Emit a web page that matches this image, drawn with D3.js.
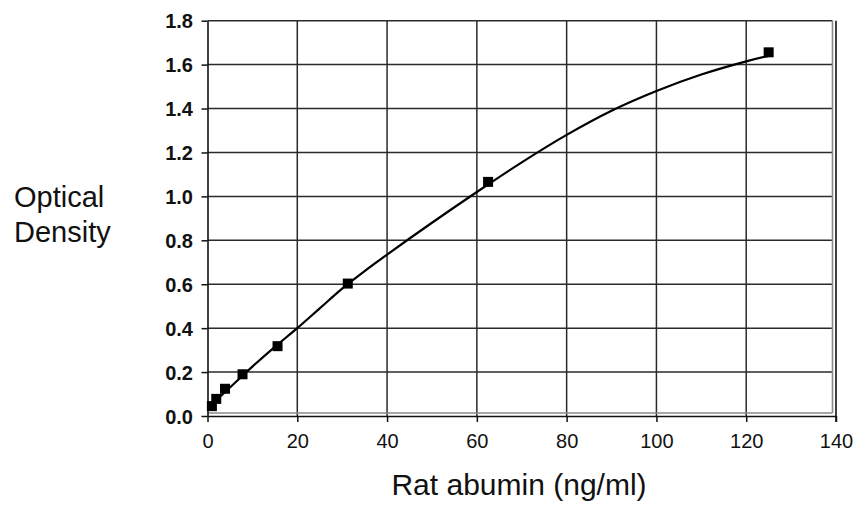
<!DOCTYPE html>
<html>
<head>
<meta charset="utf-8">
<script src="https://cdn.jsdelivr.net/npm/d3@7"></script>
<style>
  html, body { margin: 0; padding: 0; background: #fff; }
  svg { display: block; font-family: Arial, "Liberation Sans", sans-serif; }
</style>
</head>
<body>
<svg id="chart" width="858" height="507"></svg>
<script>
// ---- data ----
const concentrations = [0.98, 1.95, 3.9, 7.8, 15.6, 31.25, 62.5, 125];
const odValues       = [0.045, 0.078, 0.124, 0.19, 0.318, 0.603, 1.066, 1.656];

const curveX = [0, 5, 10, 15, 20, 25, 30, 35, 40, 50, 60, 70, 80, 90, 100, 110, 120, 125];
const curveY = [0.035, 0.13, 0.225, 0.315, 0.4, 0.49, 0.58, 0.66, 0.735, 0.88, 1.02, 1.155, 1.28, 1.39, 1.48, 1.555, 1.615, 1.64];

const xTicks = [0, 20, 40, 60, 80, 100, 120, 140];
const yTicks = [0.0, 0.2, 0.4, 0.6, 0.8, 1.0, 1.2, 1.4, 1.6, 1.8];

const xTitle = "Rat abumin (ng/ml)";
const yTitleLines = ["Optical", "Density"];

// ---- layout ----
const svg = d3.select("#chart");
const pLeft = 207.5, pRight = 836, pTop = 20.7, pBottom = 416;

const x = d3.scaleLinear().domain([0, 140]).range([pLeft, pRight]);
const y = d3.scaleLinear().domain([0, 1.8]).range([pBottom, pTop]);

const gridColor = "#2a2a2a";

// grid lines
const g = svg.append("g");
g.selectAll(".vgrid").data(xTicks.slice(1, -1)).enter().append("line")
  .attr("x1", d => x(d)).attr("x2", d => x(d))
  .attr("y1", pTop).attr("y2", pBottom)
  .attr("stroke", gridColor).attr("stroke-width", 1.5);
g.selectAll(".hgrid").data(yTicks.slice(1)).enter().append("line")
  .attr("x1", pLeft).attr("x2", pRight - 3.5)
  .attr("y1", d => y(d)).attr("y2", d => y(d))
  .attr("stroke", gridColor).attr("stroke-width", 1.5);

// inner shadow frame lines (gray)
g.append("line").attr("x1", pLeft).attr("x2", pRight - 3.5)
  .attr("y1", pBottom - 3).attr("y2", pBottom - 3)
  .attr("stroke", "#8a8a8a").attr("stroke-width", 1.6);
g.append("line").attr("x1", pRight - 3.5).attr("x2", pRight - 3.5)
  .attr("y1", pTop).attr("y2", pBottom - 3)
  .attr("stroke", "#8a8a8a").attr("stroke-width", 1.6);
// outer right line
g.append("line").attr("x1", pRight).attr("x2", pRight)
  .attr("y1", pTop).attr("y2", pBottom + 6)
  .attr("stroke", "#111").attr("stroke-width", 1.6);

// axes
const xAxis = d3.axisBottom(x).tickValues(xTicks).tickSize(6).tickSizeOuter(0)
  .tickFormat(d3.format("d"));
const gx = svg.append("g").attr("transform", `translate(0,${pBottom})`).call(xAxis);
gx.select(".domain").attr("stroke", "#111").attr("stroke-width", 1.6);
gx.selectAll(".tick line").attr("stroke", "#111").attr("stroke-width", 1.5);
gx.selectAll(".tick text").attr("font-size", 20).attr("fill", "#111")
  .attr("font-family", "Arial, 'Liberation Sans', sans-serif")
  .attr("y", 32).attr("dy", 0);

const yAxis = d3.axisLeft(y).tickValues(yTicks).tickSize(6).tickSizeOuter(0)
  .tickFormat(d3.format(".1f"));
const gy = svg.append("g").attr("transform", `translate(${pLeft},0)`).call(yAxis);
gy.select(".domain").attr("stroke", "#111").attr("stroke-width", 1.6);
gy.selectAll(".tick line").attr("stroke", "#111").attr("stroke-width", 1.5);
gy.selectAll(".tick text").attr("font-size", 20).attr("fill", "#111")
  .attr("font-weight", "bold")
  .attr("font-family", "Arial, 'Liberation Sans', sans-serif")
  .attr("x", -14.5).attr("dy", "0.36em");

// fitted curve
const curveData = curveX.map((v, i) => [v, curveY[i]]);
svg.append("path").datum(curveData)
  .attr("fill", "none").attr("stroke", "#000").attr("stroke-width", 2.2)
  .attr("d", d3.line().x(d => x(d[0])).y(d => y(d[1])).curve(d3.curveCatmullRom));

// markers
const pts = concentrations.map((v, i) => [v, odValues[i]]);
const ms = 10;
svg.selectAll(".pt").data(pts).enter().append("rect")
  .attr("x", d => x(d[0]) - ms / 2).attr("y", d => y(d[1]) - ms / 2)
  .attr("width", ms).attr("height", ms).attr("fill", "#000");

// titles
svg.append("text").attr("x", 519).attr("y", 495).attr("text-anchor", "middle")
  .attr("font-size", 30).attr("fill", "#111").text(xTitle);
svg.append("g").selectAll("text").data(yTitleLines).enter().append("text")
  .attr("x", 14).attr("y", (d, i) => 207 + i * 34.5)
  .attr("font-size", 29).attr("fill", "#111").text(d => d);
</script>
</body>
</html>
